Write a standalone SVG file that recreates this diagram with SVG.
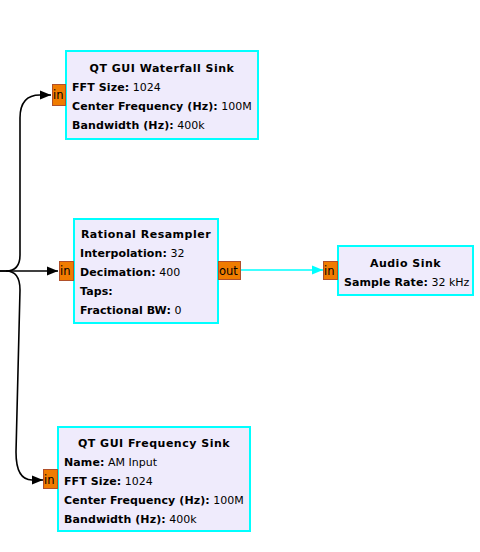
<svg xmlns="http://www.w3.org/2000/svg" width="480" height="552" viewBox="0 0 480 552">
<style>
.blk{fill:#EFEBFC;stroke:#00FFFF;stroke-width:2}
.port{fill:#F07C00;stroke:#B0502A;stroke-width:1}
.pt{font-family:"DejaVu Sans",sans-serif;font-size:11.5px;fill:#000}
.t{font-family:"DejaVu Sans",sans-serif;font-size:11px;fill:#000}
.ttl{font-weight:bold;text-anchor:middle;letter-spacing:0.5px}
.b{font-weight:bold;letter-spacing:0.1px}
.c{fill:none;stroke:#000;stroke-width:1.6}
.cy{fill:none;stroke:#00FFFF;stroke-width:1.6}
</style>
<defs>
<marker id="ab" markerWidth="12" markerHeight="10" refX="11" refY="5" orient="auto" markerUnits="userSpaceOnUse"><path d="M0,0.5 L11,5 L0,9.5 Z" fill="#000"/></marker>
<marker id="ac" markerWidth="12" markerHeight="10" refX="11" refY="5" orient="auto" markerUnits="userSpaceOnUse"><path d="M0,0.5 L11,5 L0,9.5 Z" fill="#00FFFF"/></marker>
</defs>
<g id="connectors">
<path class="c" d="M0,271 L6,271 Q20,271 20,255 L20,118 Q20,95 40,95 L51,95" marker-end="url(#ab)"/>
<path class="c" d="M0,271 L58,271" marker-end="url(#ab)"/>
<path class="c" d="M6,271 Q20,271 20,290 L16,452 Q16,480 32,480 L43,480" marker-end="url(#ab)"/>
<path class="cy" d="M240,270 L323,270" marker-end="url(#ac)"/>
</g>
<g id="waterfall_sink">
<rect class="blk" x="66" y="51" width="192" height="88"/>
<rect class="port" x="52.5" y="84.5" width="13" height="21"/>
<text class="pt" x="53" y="99">in</text>
<text class="t ttl" x="162" y="72">QT GUI Waterfall Sink</text>
<text class="t" x="72" y="91"><tspan class="b">FFT Size:</tspan> 1024</text>
<text class="t" x="72" y="110"><tspan class="b">Center Frequency (Hz):</tspan> 100M</text>
<text class="t" x="72" y="129"><tspan class="b">Bandwidth (Hz):</tspan> 400k</text>
</g>
<g id="rational_resampler">
<rect class="blk" x="74" y="219" width="144" height="104"/>
<rect class="port" x="59.5" y="261.5" width="14" height="19"/>
<text class="pt" x="60" y="275">in</text>
<rect class="port" x="218.5" y="261.5" width="22" height="18"/>
<text class="pt" x="219" y="275">out</text>
<text class="t ttl" x="146" y="238">Rational Resampler</text>
<text class="t" x="80" y="257"><tspan class="b">Interpolation:</tspan> 32</text>
<text class="t" x="80" y="276"><tspan class="b">Decimation:</tspan> 400</text>
<text class="t" x="80" y="295"><tspan class="b">Taps:</tspan></text>
<text class="t" x="80" y="314"><tspan class="b">Fractional BW:</tspan> 0</text>
</g>
<g id="audio_sink">
<rect class="blk" x="338" y="246" width="135" height="49"/>
<rect class="port" x="323.5" y="261.5" width="14" height="18"/>
<text class="pt" x="324" y="275">in</text>
<text class="t ttl" x="405.5" y="267">Audio Sink</text>
<text class="t" x="344" y="286"><tspan class="b">Sample Rate:</tspan> 32 kHz</text>
</g>
<g id="frequency_sink">
<rect class="blk" x="58" y="427" width="192" height="104"/>
<rect class="port" x="43.5" y="469.5" width="14" height="19"/>
<text class="pt" x="44" y="484">in</text>
<text class="t ttl" x="154" y="447">QT GUI Frequency Sink</text>
<text class="t" x="64" y="466"><tspan class="b">Name:</tspan> AM Input</text>
<text class="t" x="64" y="485"><tspan class="b">FFT Size:</tspan> 1024</text>
<text class="t" x="64" y="504"><tspan class="b">Center Frequency (Hz):</tspan> 100M</text>
<text class="t" x="64" y="523"><tspan class="b">Bandwidth (Hz):</tspan> 400k</text>
</g>
</svg>
